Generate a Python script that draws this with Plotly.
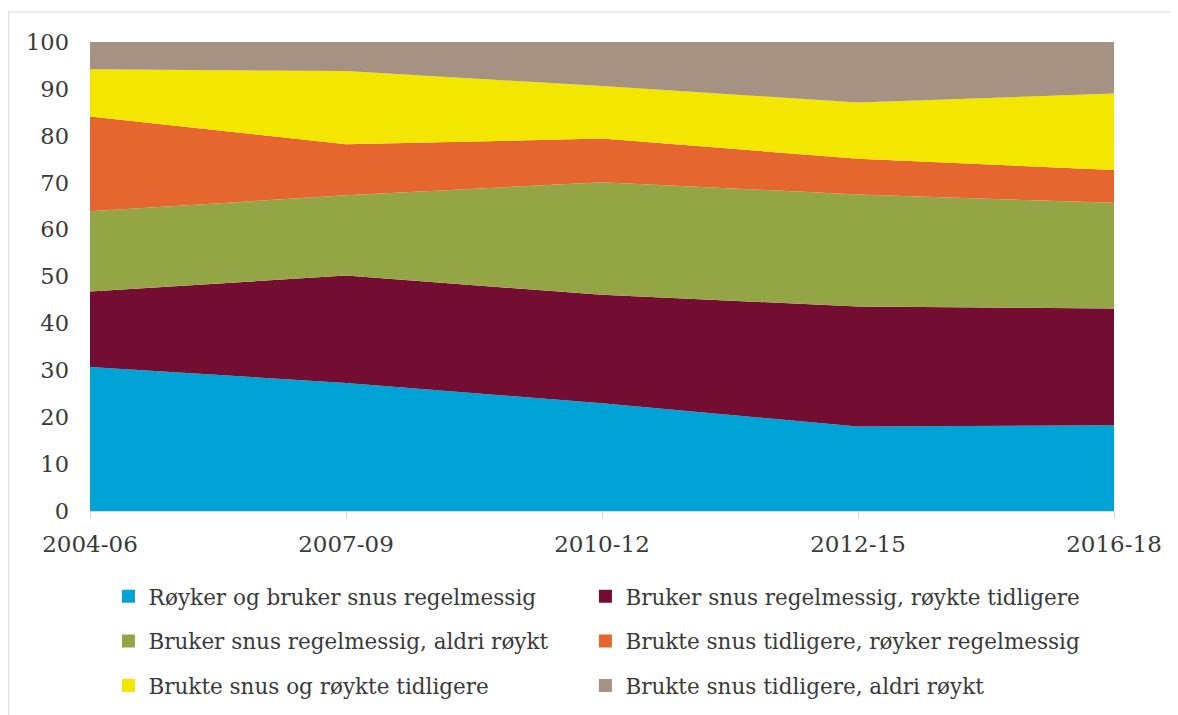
import plotly.graph_objects as go

periods = ["2004-06", "2007-09", "2010-12", "2012-15", "2016-18"]

names = [
    "Røyker og bruker snus regelmessig",
    "Bruker snus regelmessig, røykte tidligere",
    "Bruker snus regelmessig, aldri røykt",
    "Brukte snus tidligere, røyker regelmessig",
    "Brukte snus og røykte tidligere",
    "Brukte snus tidligere, aldri røykt",
]

royker_og_snus = [30.7, 27.3, 23.0, 18.0, 18.3]
snus_royket_tidl = [16.1, 22.9, 23.1, 25.6, 24.9]
snus_aldri_royket = [17.1, 17.1, 24.0, 23.9, 22.5]
snus_tidl_royker = [20.2, 10.9, 9.3, 7.6, 7.0]
snus_og_royk_tidl = [10.1, 15.6, 11.2, 12.0, 16.3]
snus_tidl_aldri = [5.8, 6.2, 9.4, 12.9, 11.0]

series = [royker_og_snus, snus_royket_tidl, snus_aldri_royket,
          snus_tidl_royker, snus_og_royk_tidl, snus_tidl_aldri]
colors = ["#00A3D6", "#730D31", "#94A545", "#E5662F", "#F3E700", "#A69283"]

font_family = "DejaVu Serif"
text_color = "#3A3A3A"

fig = go.Figure()
for name, vals, col in zip(names, series, colors):
    fig.add_trace(go.Scatter(
        x=periods, y=vals, name=name, mode="none",
        stackgroup="one", fillcolor=col, line=dict(width=0),
        showlegend=False, hoverinfo="x+y+name",
    ))

legend_ids = ["legend", "legend2", "legend3", "legend4", "legend5", "legend6"]
for name, col, lg in zip(names, colors, legend_ids):
    fig.add_trace(go.Scatter(
        x=[None], y=[None], name=name, mode="markers",
        marker=dict(symbol="square", size=13, color=col),
        legend=lg, showlegend=True,
    ))

leg_common = dict(
    orientation="h", xanchor="left", yanchor="middle",
    font=dict(family=font_family, size=21.5, color=text_color),
    bgcolor="rgba(0,0,0,0)", itemwidth=30,
)

col_x = [0.018, 0.4838]
row_y = [-0.182, -0.277, -0.372]

# figure px: plot area from x=82..1106, y=34..503 (page has 8px body margin)
fig.update_layout(
    width=1178, height=715,
    margin=dict(l=82, r=72, t=34, b=212),
    paper_bgcolor="white", plot_bgcolor="white",
    font=dict(family=font_family, color=text_color),
    legend=dict(x=col_x[0], y=row_y[0], **leg_common),
    legend2=dict(x=col_x[1], y=row_y[0], **leg_common),
    legend3=dict(x=col_x[0], y=row_y[1], **leg_common),
    legend4=dict(x=col_x[1], y=row_y[1], **leg_common),
    legend5=dict(x=col_x[0], y=row_y[2], **leg_common),
    legend6=dict(x=col_x[1], y=row_y[2], **leg_common),
    xaxis=dict(
        type="category", range=[0, 4], showgrid=False,
        showline=True, linecolor="#D9D9D9", linewidth=1,
        ticks="outside", ticklen=6, tickcolor="#D9D9D9",
        ticklabelstandoff=6,
        tickfont=dict(family=font_family, size=23, color=text_color),
        zeroline=False,
    ),
    yaxis=dict(
        range=[0, 100], tickvals=list(range(0, 101, 10)),
        showgrid=False, showline=False, zeroline=False,
        ticks="", ticklabelstandoff=20,
        tickfont=dict(family=font_family, size=22.5, color=text_color),
    ),
    shapes=[dict(
        type="rect", xref="paper", yref="paper",
        x0=(0.75 - 82) / 1024, x1=(1200 - 82) / 1024,
        y0=(503 - 760) / 469, y1=(503 - 4) / 469,
        line=dict(color="#E3E3E3", width=1.5), fillcolor="rgba(0,0,0,0)",
        layer="below",
    )],
)

fig.write_html("out.html")
